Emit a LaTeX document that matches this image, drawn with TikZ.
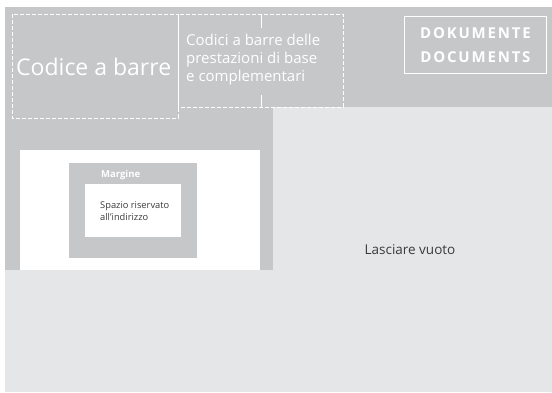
\documentclass[tikz,border=0pt]{standalone}
\usepackage{fontspec}
\setmainfont{Open Sans}
\newfontfamily\spacedfont[LetterSpace=12]{Open Sans}
\definecolor{bandgray}{HTML}{C6C7C9}
\definecolor{palegray}{HTML}{E5E6E8}
\definecolor{inkgray}{HTML}{3A3A3C}
\tikzset{
  dashbox/.style={draw=white, line width=0.9pt, dash pattern=on 4pt off 2pt},
  wlabel/.style={text=white, inner sep=0pt},
  dlabel/.style={text=inkgray, inner sep=0pt}
}

\begin{document}
\begin{tikzpicture}[x=1pt, y=-1pt]
  \useasboundingbox (0,0) rectangle (552,392);
  % Background areas
  \fill[bandgray] (5,7) rectangle (552,270);
  \fill[palegray] (273,107) rectangle (552,392);
  \fill[palegray] (5,270) rectangle (552,392);
  \fill[white] (20,150) rectangle (260,270);
  \fill[bandgray] (69,163) rectangle (197,258);
  \fill[white] (85,184) rectangle (181,237);
  % Barcode fields
  \draw[dashbox] (12,14) rectangle (178,118);
  \draw[dashbox] (178,14) rectangle (343,107);
  \coordinate (tt) at (261,14);
  \coordinate (tb) at (261,28);
  \coordinate (bt) at (261,95);
  \coordinate (bb) at (261,107);
  \draw[white, line width=0.9pt] (tt) -- (tb);
  \draw[white, line width=0.9pt] (bt) -- (bb);
  \node[wlabel, anchor=west, font=\fontsize{23}{28}\selectfont] (barre) at (16,67) {Codice a barre};
  \node[wlabel, anchor=west, align=left, font=\fontsize{15}{18}\selectfont] (prest) at (186,60)
    {Codici a barre delle\\prestazioni di base\\e complementari};
  % Document label
  \node[draw=white, line width=1.4pt, minimum width=142pt, minimum height=57pt, inner sep=0pt,
    text=white, align=center, font=\spacedfont\bfseries\fontsize{15}{24}\selectfont] (doc) at (475.5,45)
    {DOKUMENTE\\DOCUMENTS};
  % Address window
  \node[wlabel, anchor=west, font=\bfseries\fontsize{9.5}{11}\selectfont] (marg) at (101,175) {Margine};
  \node[dlabel, anchor=west, align=left, font=\fontsize{9.3}{12.5}\selectfont] (addr) at (100,211)
    {Spazio riservato\\all'indirizzo};
  \node[dlabel, font=\fontsize{13.5}{16}\selectfont] (vuoto) at (410,250) {Lasciare vuoto};
\end{tikzpicture}
\end{document}
